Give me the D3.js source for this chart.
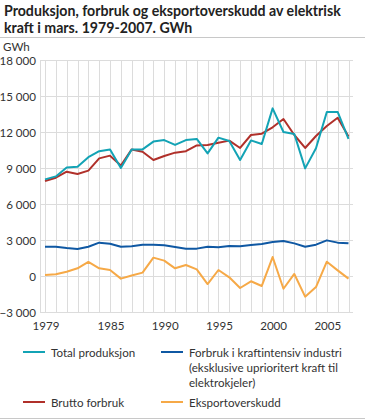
<!DOCTYPE html>
<html><head><meta charset="utf-8">
<script src="https://cdn.jsdelivr.net/npm/d3@7"></script>
<style>
body{margin:0;background:#fff;}
svg{display:block;font-family:"Lato","Open Sans",sans-serif;}
</style></head>
<body><svg id="c" width="365" height="419"></svg>
<script>
const years = d3.range(1979, 2008);
const totalProduksjon = [8050,8300,9050,9100,9900,10400,10550,9000,10550,10550,11200,11330,10920,11330,11420,10220,11530,11250,9670,11300,11000,13970,12000,11830,8970,10640,13670,13670,11420];
const bruttoForbruk = [7920,8190,8690,8500,8780,9800,10030,9200,10550,10360,9670,10000,10280,10400,10880,10920,11110,11280,10670,11750,11860,12390,13080,11750,10670,11670,12500,13190,11620];
const kraftintensiv = [2440,2440,2330,2250,2440,2780,2690,2440,2470,2610,2610,2560,2420,2280,2280,2440,2390,2500,2470,2580,2670,2830,2920,2720,2440,2610,2970,2780,2720];
const eksportoverskudd = [90,140,360,640,1170,640,500,-220,40,280,1530,1280,640,920,550,-670,500,-110,-1000,-440,-830,1580,-1060,170,-1720,-920,1190,470,-220];
const yTicks = [-3000,0,3000,6000,9000,12000,15000,18000];
const xTicks = [1979,1985,1990,1995,2000,2005];
const seriesNames = ["Total produksjon","Brutto forbruk","Forbruk i kraftintensiv industri (eksklusive uprioritert kraft til elektrokjeler)","Eksportoverskudd"];
const colors = ["#13a3b5","#b0302a","#0f58a3","#f6a947"];

const svg = d3.select("#c");
const fmt = v => d3.format(",")(v).replace(/,/g, " ");

function fit(sel, target, base){
  const w = sel.node().getComputedTextLength();
  return base*target/w;
}

// Title
const title = svg.append("text").attr("font-weight","bold").attr("font-size",15).attr("fill","#222");
const t1 = title.append("tspan").attr("x",4).attr("y",16).text("Produksjon, forbruk og eksportoverskudd av elektrisk");
const tsz = fit(title.append("tspan").attr("x",4).attr("y",-50).text("Produksjon, forbruk og eksportoverskudd av elektrisk"), 337, 15);
title.selectAll("tspan").filter((d,i)=>i===1).remove();
title.attr("font-size",tsz);
title.append("tspan").attr("x",4).attr("y",32.5).text("kraft i mars. 1979-2007. GWh");
svg.append("line").attr("x1",0).attr("x2",365).attr("y1",37.5).attr("y2",37.5).attr("stroke","#c8c8c8").attr("stroke-width",1);
svg.append("line").attr("x1",0).attr("x2",365).attr("y1",418.5).attr("y2",418.5).attr("stroke","#c8c8c8").attr("stroke-width",1);

// base font size for other texts: fit legend "Total produksjon" into 86px
const probe = svg.append("text").attr("font-size",12).attr("y",-50).text("Forbruk i kraftintensiv industri");
const fs = fit(probe, 153, 12);
probe.remove();

svg.append("text").attr("x",3).attr("y",51).attr("font-size",fs).attr("fill","#333").text("GWh");

const x = d3.scaleLinear().domain([1979,2007]).range([45,348.5]);
const y = d3.scaleLinear().domain([-3000,18000]).range([312,60]);
const plotL = 40, plotR = 353;

const g = svg.append("g");
g.selectAll("line.v").data(years).join("line")
  .attr("x1",d=>Math.round(x(d))+0.5).attr("x2",d=>Math.round(x(d))+0.5)
  .attr("y1",y(18000)).attr("y2",y(-3000))
  .attr("stroke","#dcdcdc").attr("stroke-width",1);
g.selectAll("line.h").data(yTicks).join("line")
  .attr("x1",plotL).attr("x2",plotR)
  .attr("y1",d=>Math.round(y(d))+0.5).attr("y2",d=>Math.round(y(d))+0.5)
  .attr("stroke","#dcdcdc").attr("stroke-width",1);
g.append("line").attr("x1",plotL+0.5).attr("x2",plotL+0.5).attr("y1",y(18000)).attr("y2",y(-3000)+0.5)
  .attr("stroke","#dcdcdc");

svg.selectAll("text.yt").data(yTicks).join("text")
  .attr("x",36).attr("y",d=>y(d)+4.5).attr("text-anchor","end")
  .attr("font-size",fs).attr("fill","#333").text(d=>fmt(d));
svg.selectAll("text.xt").data(xTicks).join("text")
  .attr("x",d=>x(d)+1).attr("y",330).attr("text-anchor","middle")
  .attr("font-size",fs).attr("fill","#333").text(d=>d);

const line = d3.line().x((d,i)=>x(years[i])).y(d=>y(d));
const data = [totalProduksjon, bruttoForbruk, kraftintensiv, eksportoverskudd];
[3,2,1,0].forEach(k=>{
  svg.append("path").attr("d",line(data[k])).attr("fill","none")
    .attr("stroke",colors[k]).attr("stroke-width",2).attr("stroke-linejoin","round");
});

const leg = svg.append("g").attr("font-size",fs).attr("fill","#333");
const legItems = [
  {k:0,x:23,y:352,lines:["Total produksjon"]},
  {k:2,x:161,y:352,lines:["Forbruk i kraftintensiv industri","(eksklusive uprioritert kraft til","elektrokjeler)"]},
  {k:1,x:23,y:402,lines:["Brutto forbruk"]},
  {k:3,x:161,y:402,lines:["Eksportoverskudd"]}
];
legItems.forEach(it=>{
  leg.append("line").attr("x1",it.x).attr("x2",it.x+22).attr("y1",it.y).attr("y2",it.y)
    .attr("stroke",colors[it.k]).attr("stroke-width",2);
  const t = leg.append("text").attr("fill","#333");
  it.lines.forEach((l,i)=>t.append("tspan").attr("x",it.x+28).attr("y",it.y+4.5+i*15.3).text(l));
});
</script></body></html>
